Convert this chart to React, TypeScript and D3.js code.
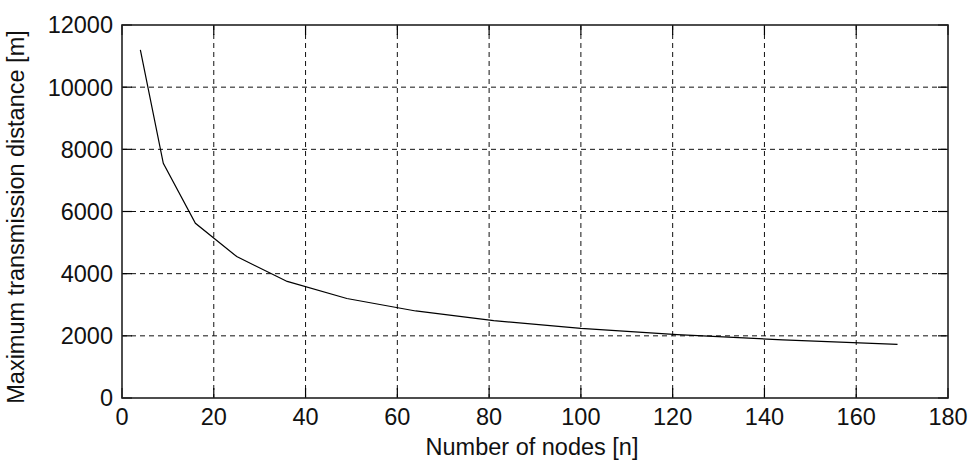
import * as d3 from "d3";
import { FC } from "react";

// number of nodes and the maximum transmission distance
const nodes = [4, 9, 16, 25, 36, 49, 64, 81, 100, 121, 144, 169];
const distance = [
  11200, 7550, 5620, 4550, 3750, 3200, 2800, 2490, 2240, 2040, 1870, 1725,
];
const xTicks = [0, 20, 40, 60, 80, 100, 120, 140, 160, 180];
const yTicks = [0, 2000, 4000, 6000, 8000, 10000, 12000];

const WIDTH = 971;
const HEIGHT = 460;
const margin = { top: 25, right: 23, bottom: 62, left: 122 };
const FONT = "'Liberation Sans', Arial, sans-serif";

const App: FC = () => {
  const w = WIDTH - margin.left - margin.right;
  const h = HEIGHT - margin.top - margin.bottom;

  const x = d3.scaleLinear().domain([0, 180]).range([0, w]);
  const y = d3.scaleLinear().domain([0, 12000]).range([h, 0]);

  const line = d3
    .line<number>()
    .x((_, i) => x(nodes[i]))
    .y((d) => y(d));

  const tick = 10;

  return (
    <svg
      width={WIDTH}
      height={HEIGHT}
      style={{ position: "absolute", left: 0, top: 0, background: "#fff" }}
      fontFamily={FONT}
    >
      <g transform={`translate(${margin.left},${margin.top})`}>
        {/* dashed grid */}
        {xTicks.slice(1, -1).map((t) => (
          <line
            key={"gx" + t}
            x1={x(t)}
            x2={x(t)}
            y1={0}
            y2={h}
            stroke="#111"
            strokeWidth={1}
            strokeDasharray="5,4"
          />
        ))}
        {yTicks.slice(1, -1).map((t) => (
          <line
            key={"gy" + t}
            x1={0}
            x2={w}
            y1={y(t)}
            y2={y(t)}
            stroke="#111"
            strokeWidth={1}
            strokeDasharray="5,4"
          />
        ))}

        {/* inward ticks on all four sides */}
        {xTicks.map((t) => (
          <g key={"tx" + t} stroke="#000" strokeWidth={1.2}>
            <line x1={x(t)} x2={x(t)} y1={h} y2={h - tick} />
            <line x1={x(t)} x2={x(t)} y1={0} y2={tick} />
          </g>
        ))}
        {yTicks.map((t) => (
          <g key={"ty" + t} stroke="#000" strokeWidth={1.2}>
            <line x1={0} x2={tick} y1={y(t)} y2={y(t)} />
            <line x1={w} x2={w - tick} y1={y(t)} y2={y(t)} />
          </g>
        ))}

        {/* data */}
        <path
          d={line(distance) ?? ""}
          fill="none"
          stroke="#000"
          strokeWidth={1.2}
        />

        {/* axes box */}
        <rect
          x={0}
          y={0}
          width={w}
          height={h}
          fill="none"
          stroke="#222"
          strokeWidth={1.6}
        />

        {/* tick labels */}
        {xTicks.map((t) => (
          <text
            key={"lx" + t}
            x={x(t)}
            y={h + 27}
            textAnchor="middle"
            fontSize={23.5}
            fill="#111"
          >
            {t}
          </text>
        ))}
        {yTicks.map((t) => (
          <text
            key={"ly" + t}
            x={-9}
            y={y(t)}
            dy="0.36em"
            textAnchor="end"
            fontSize={23.5}
            fill="#111"
          >
            {t}
          </text>
        ))}

        {/* axis titles */}
        <text
          x={w / 2 - 3}
          y={h + 57}
          textAnchor="middle"
          fontSize={23.5}
          fill="#111"
        >
          Number of nodes [n]
        </text>
      </g>
      <text
        transform={`translate(24,217) rotate(-90)`}
        textAnchor="middle"
        fontSize={23.5}
        fill="#111"
      >
        Maximum transmission distance [m]
      </text>
    </svg>
  );
};

export default App;
